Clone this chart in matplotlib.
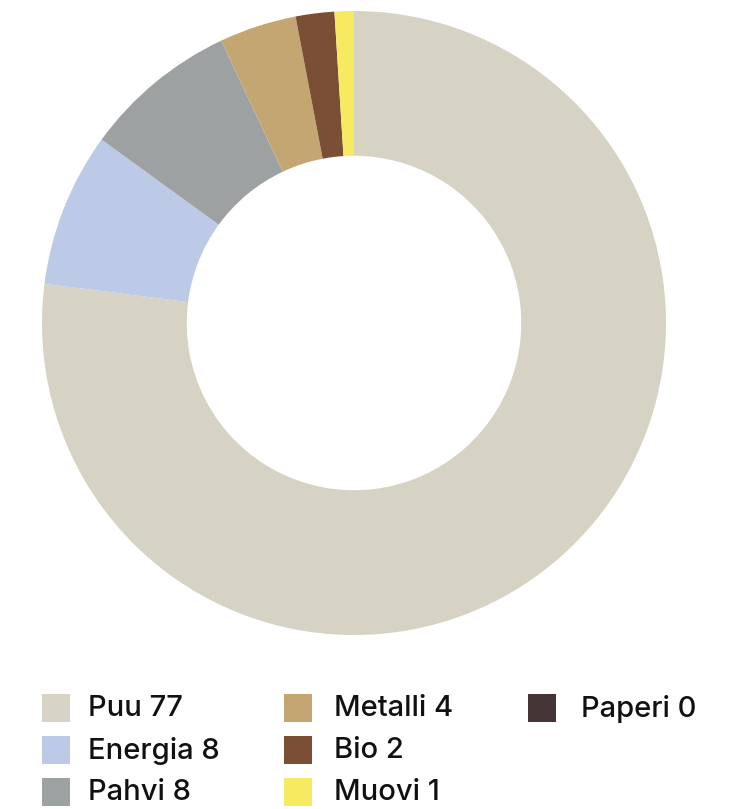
import matplotlib.pyplot as plt
from matplotlib.patches import Rectangle

labels = ["Puu", "Energia", "Pahvi", "Metalli", "Bio", "Muovi", "Paperi"]
values = [77, 8, 8, 4, 2, 1, 0]
colors = ["#d6d3c4", "#bccae8", "#9da1a1", "#c4a673", "#7a4f36", "#f7e960", "#463536"]

W, H = 741, 809
fig = plt.figure(figsize=(W / 100, H / 100), dpi=100)
plt.rcParams["font.family"] = ["Inter", "DejaVu Sans"]

# donut
cx, cy, r = 354, 323, 312
ax = fig.add_axes([(cx - r) / W, (H - cy - r) / H, 2 * r / W, 2 * r / H])
ax.pie(values, colors=colors, startangle=90, counterclock=False,
       radius=1.0, wedgeprops=dict(width=0.464, linewidth=0))
ax.set_xlim(-1, 1)
ax.set_ylim(-1, 1)
ax.set_aspect("equal")
ax.set_axis_off()

# legend, column-major, 3 rows
col_x = [42, 284, 528]
text_dx = [46, 50, 53]
row_y = [708, 750, 792]
sq = 28
for i, (lab, val, col) in enumerate(zip(labels, values, colors)):
    c, rr = divmod(i, 3)
    x, y = col_x[c], row_y[rr]
    fig.patches.append(Rectangle((x / W, (H - y - sq / 2) / H), sq / W, sq / H,
                                 transform=fig.transFigure, facecolor=col,
                                 edgecolor="none"))
    fig.text((x + text_dx[c]) / W, (H - y - 1) / H, f"{lab} {val}", fontsize=21,
             fontweight="medium", va="center", ha="left", color="#111111")

fig.savefig("out.png", dpi=100)
